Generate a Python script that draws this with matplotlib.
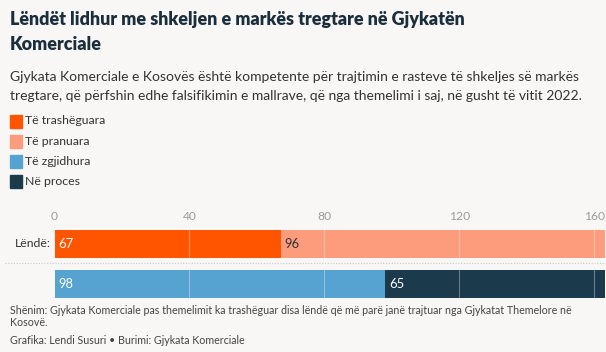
import matplotlib.pyplot as plt
from matplotlib.patches import Rectangle

plt.rcParams['font.family'] = ['Lato', 'DejaVu Sans']

# data
rows = ['Lëndë:', '']
series = ['Të trashëguara', 'Të pranuara', 'Të zgjidhura', 'Në proces']
colors = ['#ff5500', '#fc9c7c', '#56a2d0', '#1b3a4b']
text_colors = ['white', '#333333', 'white', 'white']
row_of = [0, 0, 1, 1]
values = [67, 96, 98, 65]
ticks = [0, 40, 80, 120, 160]

bg = '#f8f7f6'
W, H = 606, 352
fig = plt.figure(figsize=(W / 100, H / 100), dpi=100)
fig.patch.set_facecolor(bg)

def fx(px):
    return px / W

def fy(py):
    return 1 - py / H

dark = '#1a2e3b'
fig.text(fx(10), fy(20), 'Lëndët lidhur me shkeljen e markës tregtare në Gjykatën',
         fontsize=12.9, fontweight='heavy', color=dark, va='center')
fig.text(fx(10), fy(45), 'Komerciale', fontsize=12.9, fontweight='heavy', color=dark, va='center')
fig.text(fx(10), fy(77), 'Gjykata Komerciale e Kosovës është kompetente për trajtimin e rasteve të shkeljes së markës',
         fontsize=10, color='#333333', va='center')
fig.text(fx(10), fy(96), 'tregtare, që përfshin edhe falsifikimin e mallrave, që nga themelimi i saj, në gusht të vitit 2022.',
         fontsize=10, color='#333333', va='center')

# legend
for i, (name, c) in enumerate(zip(series, colors)):
    yc = 121 + i * 20.3
    fig.patches.append(Rectangle((fx(10), fy(yc + 6.5)), fx(12), 13 / H, color=c,
                                 transform=fig.transFigure, figure=fig))
    fig.text(fx(25), fy(yc), name, fontsize=8.8, color='#333333', va='center')

# bars
ax = fig.add_axes([fx(54.5), fy(304), fx(604.6 - 54.5), (304 - 223.75) / H])
ax.set_facecolor(bg)
ax.set_xlim(0, 163)
ax.set_ylim(1.5, -0.5)
left = [0, 0]
for v, c, tc, r in zip(values, colors, text_colors, row_of):
    ax.barh(r, v, left=left[r], height=0.69, color=c, zorder=2)
    ax.text(left[r] + 1.2, r, str(v), color=tc, fontsize=9.4, va='center', ha='left', zorder=4)
    left[r] += v

for t in ticks[1:]:
    ax.axvline(t, color='white', alpha=0.35, lw=0.8, zorder=3)
ax.axhline(0.49, xmin=-0.09, xmax=1, color='#c8c8c8', lw=0.8, ls=(0, (1, 1.5)), clip_on=False)

ax.xaxis.tick_top()
ax.set_xticks(ticks)
ax.tick_params(axis='x', length=0, pad=1.5, labelsize=8.7, labelcolor='#9a9a9a')
ax.set_yticks([])
for s in ax.spines.values():
    s.set_visible(False)
ax.text(-1.2, 0, rows[0], ha='right', va='center', fontsize=8.8, color='#333333')

# footer
fig.text(fx(10), fy(311), 'Shënim: Gjykata Komerciale pas themelimit ka trashëguar disa lëndë që më parë janë trajtuar nga Gjykatat Themelore në',
         fontsize=7.7, color='#444444', va='center')
fig.text(fx(10), fy(323), 'Kosovë.', fontsize=7.7, color='#444444', va='center')
fig.text(fx(10), fy(341), 'Grafika: Lendi Susuri • Burimi: Gjykata Komerciale', fontsize=7.7, color='#444444', va='center')

fig.savefig('out.png', dpi=100, facecolor=bg)
